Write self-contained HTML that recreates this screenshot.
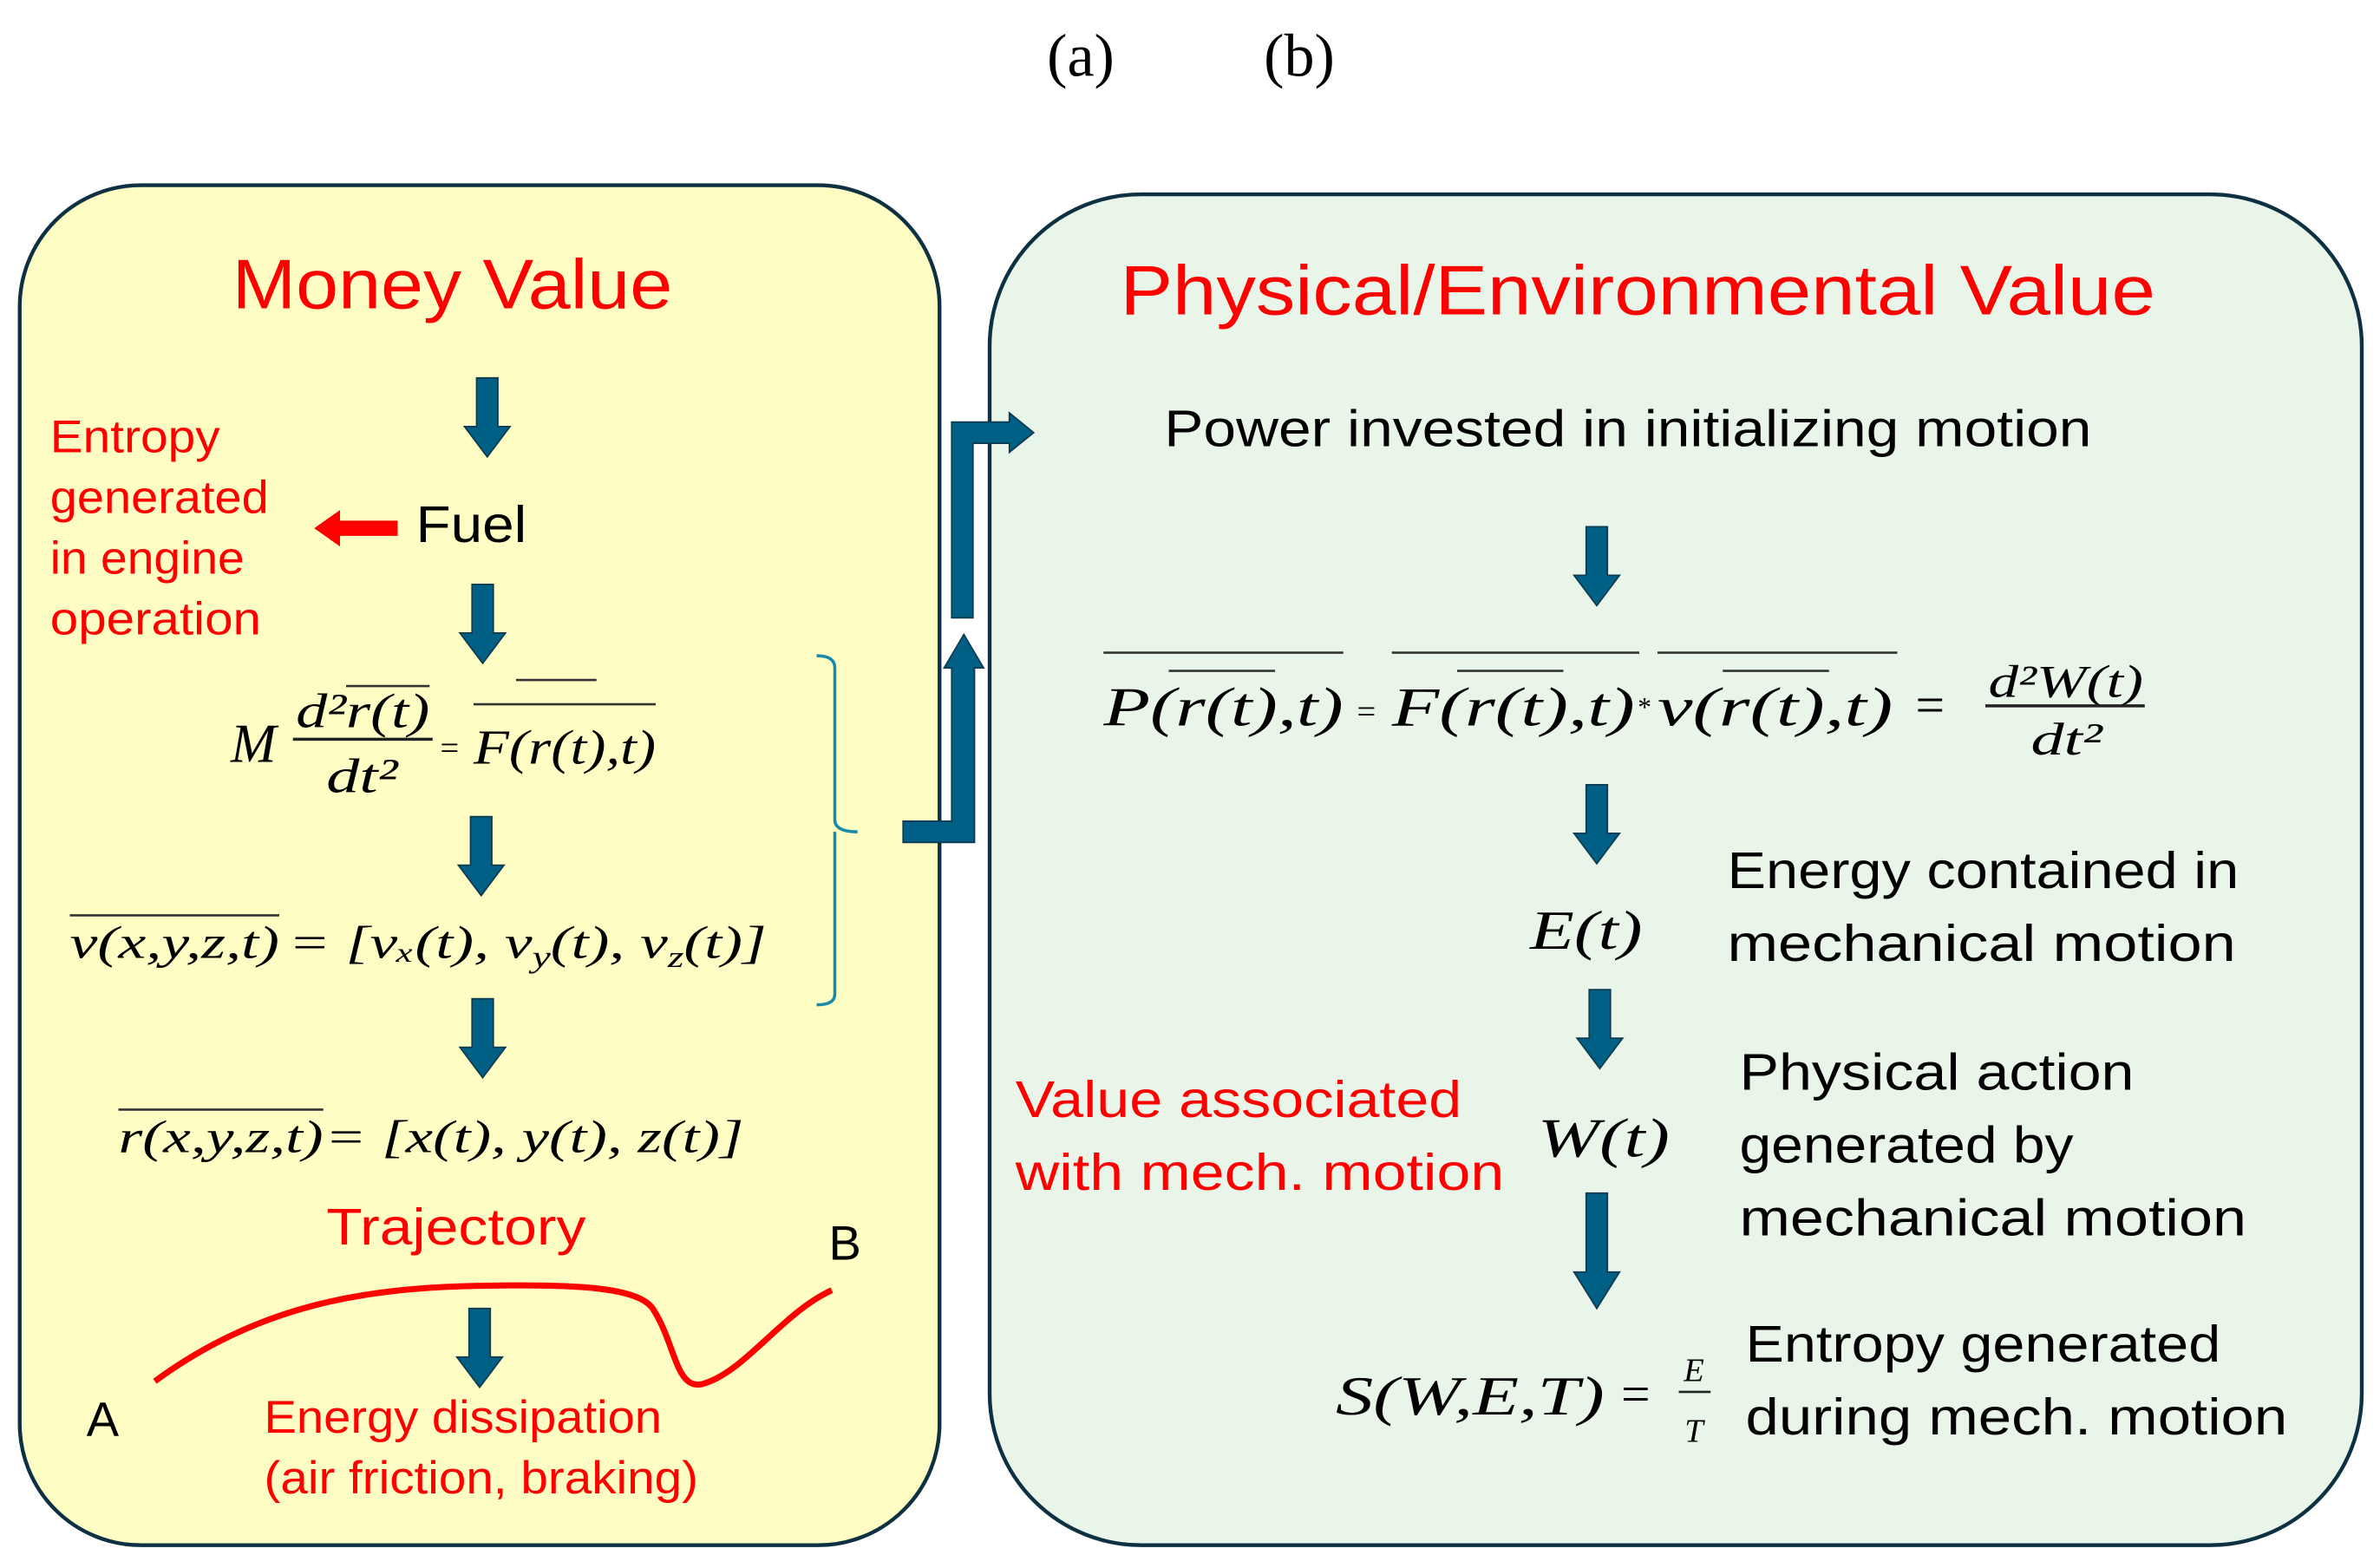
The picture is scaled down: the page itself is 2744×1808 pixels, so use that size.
<!DOCTYPE html>
<html><head><meta charset="utf-8"><style>
html,body{margin:0;padding:0;background:#fff}
svg{display:block}
.s{font-family:"Liberation Sans",sans-serif}
.m{font-family:"Liberation Serif",serif;font-style:italic}
.red{fill:#ff0000}
</style></head><body>
<svg width="2744" height="1808" viewBox="0 0 1568 1033" preserveAspectRatio="none" xmlns="http://www.w3.org/2000/svg">
<defs>
<path id="da" d="M-7,0 H7 V32 H15 L0,52 L-15,32 H-7 Z" fill="#005f85" stroke="#0d3a50" stroke-width="1"/>
</defs>
<text x="712" y="50" font-family="Liberation Serif,serif" font-size="40" text-anchor="middle">(a)</text>
<text x="856" y="50" font-family="Liberation Serif,serif" font-size="40" text-anchor="middle">(b)</text>

<rect x="13" y="122" width="606" height="896" rx="80" ry="80" fill="#fefdc4" stroke="#0d3142" stroke-width="2.5"/>
<rect x="652" y="128" width="904" height="890" rx="100" ry="100" fill="#e9f5e9" stroke="#0d3142" stroke-width="2.5"/>

<!-- elbow arrow -->
<path d="M595,541 H627 V440 H622 L635,418 L648,440 H642 V555 H595 Z" fill="#005f85" stroke="#0d3a50" stroke-width="1"/>
<path d="M627,407 V278 H665 V272 L681,285 L665,298 V292 H641 V407 Z" fill="#005f85" stroke="#0d3a50" stroke-width="1"/>

<!-- bracket -->
<path d="M538,432 Q550,432 550,440 V540 Q550,548 565,548 M550,548 Q550,548 550,556 V655 Q550,662 538,662" fill="none" stroke="#1a8aa8" stroke-width="2"/>

<text x="153" y="203" class="s red" font-size="46" textLength="290" lengthAdjust="spacingAndGlyphs">Money Value</text>
<use href="#da" x="321" y="249"/>
<text x="33" y="298" class="s red" font-size="30" textLength="112" lengthAdjust="spacingAndGlyphs">Entropy</text>
<text x="33" y="338" class="s red" font-size="30" textLength="144" lengthAdjust="spacingAndGlyphs">generated</text>
<text x="33" y="378" class="s red" font-size="30" textLength="128" lengthAdjust="spacingAndGlyphs">in engine</text>
<text x="33" y="418" class="s red" font-size="30" textLength="139" lengthAdjust="spacingAndGlyphs">operation</text>
<path d="M207,348 L224,336 V343 H262 V353 H224 V360 Z" fill="#ff0000"/>
<text x="274" y="357" class="s" font-size="34" textLength="73" lengthAdjust="spacingAndGlyphs">Fuel</text>
<use href="#da" x="318" y="385"/>

<!-- M eq -->
<text x="152" y="502" class="m" font-size="36">M</text>
<text x="195" y="479" class="m" font-size="32" textLength="88" lengthAdjust="spacingAndGlyphs">d²r(t)</text>
<line x1="228" y1="452" x2="283" y2="452" stroke="#333" stroke-width="1.5"/>
<line x1="193" y1="487" x2="285" y2="487" stroke="#222" stroke-width="2"/>
<text x="215" y="522" class="m" font-size="32" textLength="47" lengthAdjust="spacingAndGlyphs">dt²</text>
<text x="290" y="500" font-family="Liberation Serif,serif" font-size="22">=</text>
<text x="312" y="503" class="m" font-size="32" textLength="120" lengthAdjust="spacingAndGlyphs">F(r(t),t)</text>
<line x1="312" y1="464" x2="432" y2="464" stroke="#333" stroke-width="1.5"/>
<line x1="340" y1="448" x2="393" y2="448" stroke="#333" stroke-width="1.5"/>
<use href="#da" x="317" y="538"/>

<!-- v eq -->
<text x="46" y="631" class="m" font-size="30" textLength="138" lengthAdjust="spacingAndGlyphs">v(x,y,z,t)</text>
<line x1="46" y1="603" x2="184" y2="603" stroke="#333" stroke-width="1.5"/>
<text x="190" y="631" class="m" font-size="30" textLength="315" lengthAdjust="spacingAndGlyphs">= [vₓ(t),   v<tspan font-size="20" dy="6">y</tspan><tspan dy="-6">(t),   v</tspan><tspan font-size="20" dy="6">z</tspan><tspan dy="-6">(t)]</tspan></text>
<use href="#da" x="318" y="658"/>

<!-- r eq -->
<text x="78" y="759" class="m" font-size="30" textLength="135" lengthAdjust="spacingAndGlyphs">r(x,y,z,t)</text>
<line x1="78" y1="731" x2="213" y2="731" stroke="#333" stroke-width="1.5"/>
<text x="214" y="759" class="m" font-size="30" textLength="276" lengthAdjust="spacingAndGlyphs">= [x(t),   y(t),   z(t)]</text>

<text x="215" y="820" class="s red" font-size="34" textLength="171" lengthAdjust="spacingAndGlyphs">Trajectory</text>
<text x="546" y="830" class="s" font-size="32">B</text>
<text x="57" y="946" class="s" font-size="32">A</text>
<path d="M102,910 C170,860 240,848 320,847 C380,846 420,848 430,862 C445,885 445,915 462,912 C490,905 515,865 548,850" fill="none" stroke="#ff0000" stroke-width="4"/>
<use href="#da" x="316" y="862"/>
<text x="174" y="944" class="s red" font-size="30" textLength="262" lengthAdjust="spacingAndGlyphs">Energy dissipation</text>
<text x="174" y="984" class="s red" font-size="30" textLength="286" lengthAdjust="spacingAndGlyphs">(air friction, braking)</text>

<!-- right -->
<text x="738" y="207" class="s red" font-size="46" textLength="682" lengthAdjust="spacingAndGlyphs">Physical/Environmental Value</text>
<text x="767" y="294" class="s" font-size="34" textLength="611" lengthAdjust="spacingAndGlyphs">Power invested in initializing motion</text>
<use href="#da" x="1052" y="347"/>

<text x="727" y="478" class="m" font-size="36" textLength="158" lengthAdjust="spacingAndGlyphs">P(r(t),t)</text>
<line x1="727" y1="430" x2="885" y2="430" stroke="#333" stroke-width="1.5"/>
<line x1="770" y1="442" x2="840" y2="442" stroke="#333" stroke-width="1.5"/>
<text x="894" y="476" font-family="Liberation Serif,serif" font-size="22">=</text>
<text x="917" y="478" class="m" font-size="36" textLength="160" lengthAdjust="spacingAndGlyphs">F(r(t),t)</text>
<line x1="917" y1="430" x2="1080" y2="430" stroke="#333" stroke-width="1.5"/>
<line x1="960" y1="442" x2="1030" y2="442" stroke="#333" stroke-width="1.5"/>
<text x="1079" y="472" font-family="Liberation Serif,serif" font-size="18">*</text>
<text x="1092" y="478" class="m" font-size="36" textLength="155" lengthAdjust="spacingAndGlyphs">v(r(t),t)</text>
<line x1="1092" y1="430" x2="1250" y2="430" stroke="#333" stroke-width="1.5"/>
<line x1="1135" y1="442" x2="1205" y2="442" stroke="#333" stroke-width="1.5"/>
<text x="1262" y="476" font-family="Liberation Serif,serif" font-size="34">=</text>
<text x="1310" y="459" class="m" font-size="30" textLength="102" lengthAdjust="spacingAndGlyphs">d²W(t)</text>
<line x1="1308" y1="465" x2="1413" y2="465" stroke="#222" stroke-width="2"/>
<text x="1338" y="497" class="m" font-size="30" textLength="47" lengthAdjust="spacingAndGlyphs">dt²</text>
<use href="#da" x="1052" y="517"/>

<text x="1008" y="625" class="m" font-size="36" textLength="74" lengthAdjust="spacingAndGlyphs">E(t)</text>
<text x="1138" y="585" class="s" font-size="34" textLength="337" lengthAdjust="spacingAndGlyphs">Energy contained in</text>
<text x="1138" y="633" class="s" font-size="34" textLength="335" lengthAdjust="spacingAndGlyphs">mechanical motion</text>
<use href="#da" x="1054" y="652"/>

<text x="669" y="736" class="s red" font-size="34" textLength="294" lengthAdjust="spacingAndGlyphs">Value associated</text>
<text x="669" y="784" class="s red" font-size="34" textLength="322" lengthAdjust="spacingAndGlyphs">with mech. motion</text>
<text x="1013" y="762" class="m" font-size="36" textLength="87" lengthAdjust="spacingAndGlyphs">W(t)</text>
<text x="1146" y="718" class="s" font-size="34" textLength="260" lengthAdjust="spacingAndGlyphs">Physical action</text>
<text x="1146" y="766" class="s" font-size="34" textLength="220" lengthAdjust="spacingAndGlyphs">generated by</text>
<text x="1146" y="814" class="s" font-size="34" textLength="334" lengthAdjust="spacingAndGlyphs">mechanical motion</text>
<path d="M1045,786 H1059 V838 H1067 L1052,862 L1037,838 H1045 Z" fill="#005f85" stroke="#0d3a50" stroke-width="1"/>

<text x="880" y="932" class="m" font-size="36" textLength="177" lengthAdjust="spacingAndGlyphs">S(W,E,T)</text>
<text x="1068" y="930" font-family="Liberation Serif,serif" font-size="34">=</text>
<text x="1116" y="910" class="m" font-size="22" text-anchor="middle">E</text>
<line x1="1106" y1="917" x2="1127" y2="917" stroke="#222" stroke-width="1.5"/>
<text x="1116" y="950" class="m" font-size="22" text-anchor="middle">T</text>
<text x="1150" y="897" class="s" font-size="34" textLength="313" lengthAdjust="spacingAndGlyphs">Entropy generated</text>
<text x="1150" y="945" class="s" font-size="34" textLength="357" lengthAdjust="spacingAndGlyphs">during mech. motion</text>
</svg>
</body></html>
